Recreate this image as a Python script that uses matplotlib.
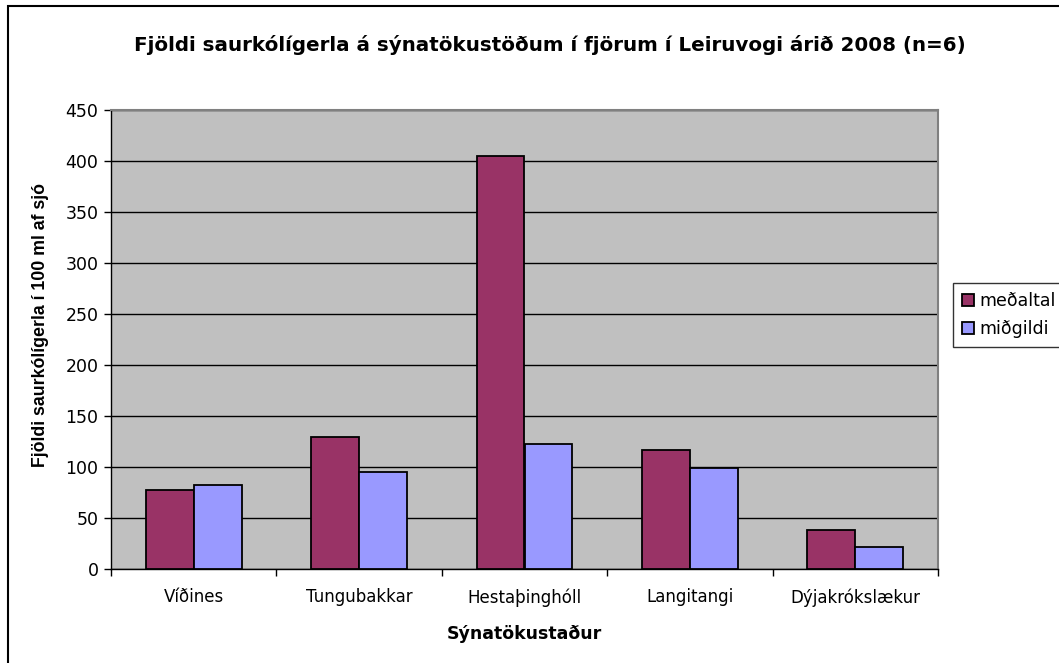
import matplotlib
matplotlib.use("Agg")
import matplotlib.pyplot as plt
import numpy as np
from matplotlib.patches import Rectangle

categories = ["Víðines", "Tungubakkar", "Hestaþinghóll", "Langitangi", "Dýjakrókslækur"]
medaltal = [77, 129, 405, 117, 38]
midgildi = [82, 95, 123, 99, 22]
series_names = ["meðaltal", "miðgildi"]
yticks = [0, 50, 100, 150, 200, 250, 300, 350, 400, 450]

plt.rcParams['font.family'] = ['DejaVu Sans']

W, H = 1059, 663
fig = plt.figure(figsize=(W / 100, H / 100), dpi=100)
ax = fig.add_axes([111 / W, 1 - 569 / H, (938 - 111) / W, (569 - 110) / H])

x = np.arange(len(categories))
bw = 0.29
ax.bar(x - bw / 2, medaltal, bw, color="#993366", edgecolor="black", linewidth=1.3,
       label=series_names[0], zorder=3)
ax.bar(x + bw / 2, midgildi, bw, color="#9999FF", edgecolor="black", linewidth=1.3,
       label=series_names[1], zorder=3)

ax.set_facecolor("#C0C0C0")
ax.set_xlim(-0.5, len(categories) - 0.5)
ax.set_ylim(0, 450)
ax.set_yticks(yticks)
ax.set_yticklabels([str(v) for v in yticks], fontsize=12.5)
ax.yaxis.grid(True, color="black", linewidth=1, zorder=1)
ax.set_axisbelow(True)

ax.set_xticks(x)
ax.set_xticklabels(categories, fontsize=12)
ax.tick_params(axis='x', length=0, pad=14)
ax.set_xticks(np.arange(len(categories) + 1) - 0.5, minor=True)
ax.tick_params(axis='x', which='minor', length=5, direction='out', width=1)
ax.tick_params(axis='y', length=5, direction='out', width=1, pad=4)

for s in ["top", "right"]:
    ax.spines[s].set_color("#808080")
    ax.spines[s].set_linewidth(1.5)
for s in ["left", "bottom"]:
    ax.spines[s].set_color("black")
    ax.spines[s].set_linewidth(1)

ax.set_xlabel("Sýnatökustaður", fontsize=12.5, fontweight="bold")
ax.xaxis.set_label_coords(0.5, -(634 - 569) / 459, transform=ax.transAxes)
ax.xaxis.label.set_va("center")
ax.set_ylabel("Fjöldi saurkólígerla í 100 ml af sjó", fontsize=12.8, fontweight="bold",
              family=['Liberation Sans', 'DejaVu Sans'])
ax.yaxis.set_label_coords(-(111 - 40) / 827, (569 - 325) / 459)
ax.yaxis.label.set_va("center")

fig.text(550 / W, 1 - 45 / H, "Fjöldi saurkólígerla á sýnatökustöðum í fjörum í Leiruvogi árið 2008 (n=6)",
         ha="center", va="center", fontsize=14.3, fontweight="bold")

leg = fig.legend(loc="upper left", bbox_to_anchor=(953 / W, 1 - 283 / H), fontsize=12.5,
                 frameon=True, fancybox=False, edgecolor="black", handlelength=0.7,
                 handleheight=0.7, handletextpad=0.3, borderpad=0.5, labelspacing=0.6,
                 borderaxespad=0)
leg.get_frame().set_linewidth(1)
for h in leg.legend_handles:
    h.set_edgecolor("black")

fig.patches.append(Rectangle((8 / W, -0.05), 1.1, 1 - 6 / H + 0.05, transform=fig.transFigure,
                             fill=False, edgecolor="black", linewidth=1.5, clip_on=False))

fig.savefig("out.png", dpi=100)
